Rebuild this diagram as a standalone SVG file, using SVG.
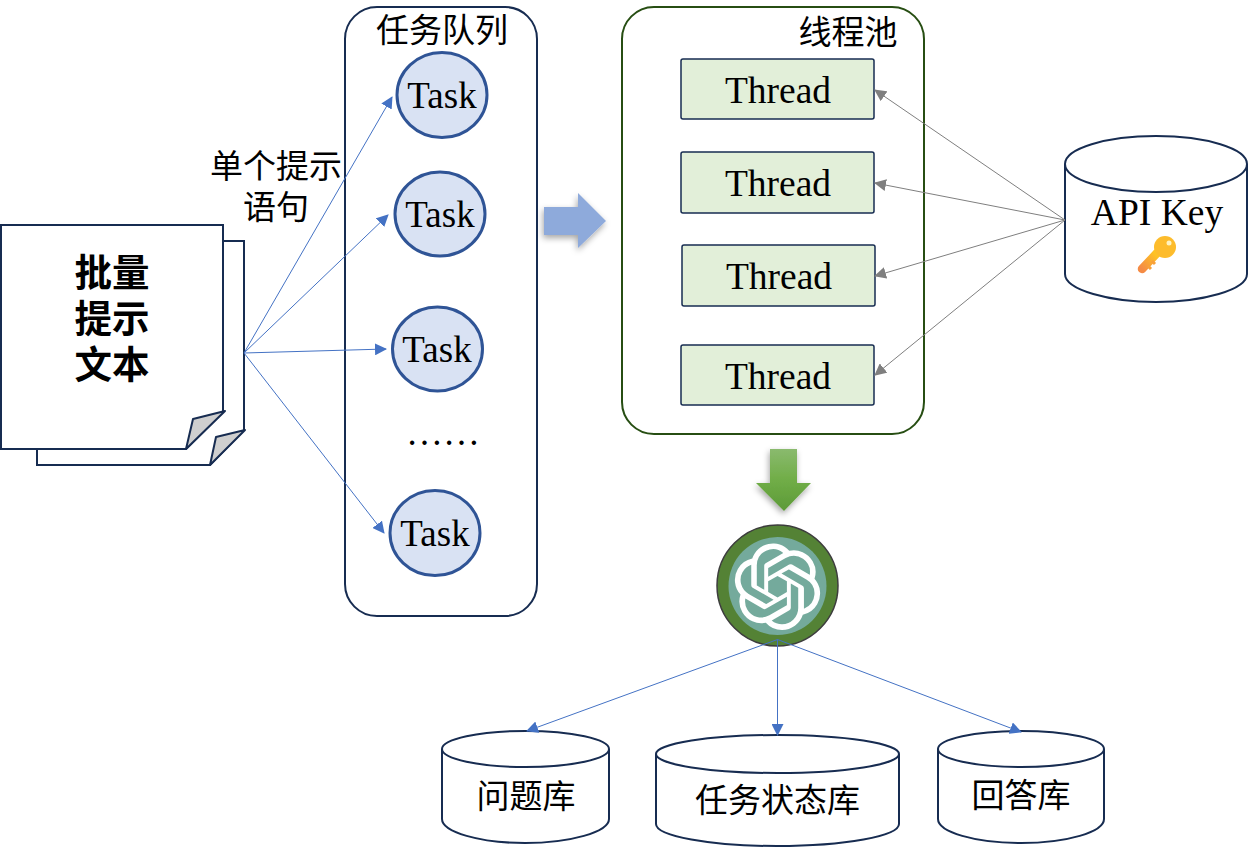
<svg xmlns="http://www.w3.org/2000/svg" width="1255" height="847" viewBox="0 0 1255 847">
<defs>
<marker id="ab" markerWidth="12" markerHeight="12" refX="11" refY="6" orient="auto" markerUnits="userSpaceOnUse"><path d="M0,0L12,6L0,12Z" fill="#4472c4"/></marker>
<marker id="ag" markerWidth="12" markerHeight="12" refX="11" refY="6" orient="auto" markerUnits="userSpaceOnUse"><path d="M0,0L12,6L0,12Z" fill="#7f7f7f"/></marker>
<linearGradient id="gg" x1="0" y1="0" x2="0" y2="1"><stop offset="0" stop-color="#8aba6e"/><stop offset="0.5" stop-color="#70ad47"/><stop offset="1" stop-color="#5d9a38"/></linearGradient>
<linearGradient id="kg" x1="0" y1="1" x2="1" y2="0"><stop offset="0" stop-color="#f58b45"/><stop offset="1" stop-color="#ffc820"/></linearGradient>
<filter id="sh" x="-30%" y="-30%" width="160%" height="160%"><feDropShadow dx="-1" dy="3" stdDeviation="3" flood-color="#000" flood-opacity="0.35"/></filter>
</defs>
<style>
.o{fill:#fff;stroke:#172c51;stroke-width:2}
.b{fill:none;stroke:#172c51;stroke-width:2}
.task{fill:#d9e2f3;stroke:#2f5496;stroke-width:3}
.th{fill:#e2efd9;stroke:#172c51;stroke-width:1.5}
.cb{stroke:#4472c4;stroke-width:1;fill:none;marker-end:url(#ab)}
.cg{stroke:#7f7f7f;stroke-width:1;fill:none;marker-end:url(#ag)}
.fold{fill:#cfcfcf;stroke:#172c51;stroke-width:2;stroke-linejoin:round}
text{fill:#000}
.s{font-family:"Liberation Serif","Noto Serif CJK SC",serif;text-anchor:middle}
.c{font-family:"Noto Sans CJK SC","Liberation Sans",sans-serif;text-anchor:middle}
</style>

<g id="doc">
<path class="o" d="M37,241H244V430L210,465H37Z"/>
<path class="fold" d="M245,430L216,437L210,465Z"/>
<path class="o" d="M1,225H223V412L186,449H1Z"/>
<path class="fold" d="M225,411L193,419L186,449Z"/>
<text class="c" font-size="37.500" font-weight="700"><tspan x="112" y="286">批量</tspan><tspan x="112" y="332">提示</tspan><tspan x="112" y="378">文本</tspan></text>
</g>

<g id="prompt-label">
<text class="c" font-size="33" x="276" y="178">单个提示</text>
<text class="c" font-size="33" x="276" y="219">语句</text>
</g>

<g id="queue">
<rect class="b" x="345" y="7" width="192" height="609" rx="32" ry="32"/>
<text class="c" font-size="33" x="442" y="42">任务队列</text>
<text class="s" font-size="37" x="443" y="445">……</text>
</g>
<g id="task1"><ellipse class="task" cx="442" cy="95" rx="45" ry="42.500"/><text class="s" font-size="37" x="442" y="108">Task</text></g>
<g id="task2"><ellipse class="task" cx="440" cy="214" rx="45" ry="42"/><text class="s" font-size="37" x="440" y="227">Task</text></g>
<g id="task3"><ellipse class="task" cx="437.500" cy="349" rx="45" ry="42"/><text class="s" font-size="37" x="437" y="362">Task</text></g>
<g id="task4"><ellipse class="task" cx="435" cy="533" rx="45" ry="42.500"/><text class="s" font-size="37" x="435" y="546">Task</text></g>

<g id="arrow-right"><path d="M544,207H578V193L606,221L578,248V235H544Z" fill="#8eaadb" filter="url(#sh)"/></g>

<g id="pool">
<rect x="622" y="7" width="302" height="427" rx="32" ry="32" fill="#fff" stroke="#274e13" stroke-width="2"/>
<text class="c" font-size="33" x="848" y="44">线程池</text>
</g>
<g id="thread1"><rect class="th" x="681" y="59" width="193" height="60" rx="2"/><text class="s" font-size="37.500" x="778" y="103">Thread</text></g>
<g id="thread2"><rect class="th" x="681" y="152" width="193" height="61" rx="2"/><text class="s" font-size="37.500" x="778" y="196">Thread</text></g>
<g id="thread3"><rect class="th" x="682" y="245" width="193" height="61" rx="2"/><text class="s" font-size="37.500" x="779" y="289">Thread</text></g>
<g id="thread4"><rect class="th" x="681" y="345" width="193" height="60" rx="2"/><text class="s" font-size="37.500" x="778" y="389">Thread</text></g>

<g id="api-key">
<path class="o" d="M1065,164V274C1065,290 1110,302 1156,302C1202,302 1247,290 1247,274V164"/>
<ellipse class="o" cx="1156" cy="164" rx="91" ry="28"/>
<text class="s" font-size="37.500" x="1157" y="225">API Key</text>
<path d="M1142,269L1157,253" stroke="url(#kg)" stroke-width="8.500" stroke-linecap="round" fill="none"/>
<circle cx="1165" cy="247" r="11" fill="#fdbc2c"/>
<circle cx="1169" cy="243" r="2.500" fill="#fff3c0"/>
<path d="M1148,266l3,3M1152,261l3,3" stroke="#f8a03a" stroke-width="3"/>
</g>

<g id="arrow-down"><path d="M770,449H797V483H811L784,511L756,483H770Z" fill="url(#gg)" filter="url(#sh)"/></g>

<g id="openai">
<circle cx="777.500" cy="585.500" r="60.500" fill="#548235" stroke="#3d3d3d" stroke-width="1.500"/>
<circle cx="777.500" cy="586" r="49" fill="#74aa9c"/>
<path transform="translate(734.300 543.500) scale(3.600)" fill="#fff" d="M22.2819 9.8211a5.9847 5.9847 0 0 0-.5157-4.9108 6.0462 6.0462 0 0 0-6.5098-2.9A6.0651 6.0651 0 0 0 4.9807 4.1818a5.9847 5.9847 0 0 0-3.9977 2.9 6.0462 6.0462 0 0 0 .7427 7.0966 5.98 5.98 0 0 0 .511 4.9107 6.051 6.051 0 0 0 6.5146 2.9001A5.9847 5.9847 0 0 0 13.2599 24a6.0557 6.0557 0 0 0 5.7718-4.2058 5.9894 5.9894 0 0 0 3.9977-2.9001 6.0557 6.0557 0 0 0-.7475-7.0729zm-9.022 12.6081a4.4755 4.4755 0 0 1-2.8764-1.0408l.1419-.0804 4.7783-2.7582a.7948.7948 0 0 0 .3927-.6813v-6.7369l2.02 1.1686a.071.071 0 0 1 .038.052v5.5826a4.504 4.504 0 0 1-4.4945 4.4944zm-9.6607-4.1254a4.4708 4.4708 0 0 1-.5346-3.0137l.142.0852 4.783 2.7582a.7712.7712 0 0 0 .7806 0l5.8428-3.3685v2.3324a.0804.0804 0 0 1-.0332.0615L9.74 19.9502a4.4992 4.4992 0 0 1-6.1408-1.6464zM2.3408 7.8956a4.485 4.485 0 0 1 2.3655-1.9728V11.6a.7664.7664 0 0 0 .3879.6765l5.8144 3.3543-2.0201 1.1685a.0757.0757 0 0 1-.071 0l-4.8303-2.7865A4.504 4.504 0 0 1 2.3408 7.872zm16.5963 3.8558L13.1038 8.364 15.1192 7.2a.0757.0757 0 0 1 .071 0l4.8303 2.7913a4.4944 4.4944 0 0 1-.6765 8.1042v-5.6772a.79.79 0 0 0-.407-.667zm2.0107-3.0231l-.142-.0852-4.7735-2.7818a.7759.7759 0 0 0-.7854 0L9.409 9.2297V6.8974a.0662.0662 0 0 1 .0284-.0615l4.8303-2.7866a4.4992 4.4992 0 0 1 6.6802 4.66zM8.3065 12.863l-2.02-1.1638a.0804.0804 0 0 1-.038-.0567V6.0742a4.4992 4.4992 0 0 1 7.3757-3.4537l-.142.0805L8.704 5.459a.7948.7948 0 0 0-.3927.6813zm1.0976-2.3654l2.602-1.4998 2.6069 1.4998v2.9994l-2.5974 1.4997-2.6067-1.4997Z"/>
</g>

<g id="db-question">
<path class="o" d="M442,749V819C442,832 480,843 525,843C570,843 609,832 609,819V749"/>
<ellipse class="o" cx="525.500" cy="749" rx="83.500" ry="18"/>
<text class="c" font-size="33" x="526" y="808">问题库</text>
</g>
<g id="db-status">
<path class="o" d="M656,754V824C656,836 710,846 777,846C845,846 899,836 899,824V754"/>
<ellipse class="o" cx="777.500" cy="754" rx="121.500" ry="19"/>
<text class="c" font-size="33" x="777.500" y="812">任务状态库</text>
</g>
<g id="db-answer">
<path class="o" d="M938,749V819C938,832 975,843 1021,843C1067,843 1104,832 1104,819V749"/>
<ellipse class="o" cx="1021" cy="749" rx="83" ry="18"/>
<text class="c" font-size="33" x="1021" y="807">回答库</text>
</g>

<g id="connectors">
<path class="cb" d="M244,353L392,97"/>
<path class="cb" d="M244,353L388,215"/>
<path class="cb" d="M244,353L386,349"/>
<path class="cb" d="M244,353L384,533"/>
<path class="cg" d="M1065,220L875,90"/>
<path class="cg" d="M1065,220L875,183"/>
<path class="cg" d="M1065,220L875,276"/>
<path class="cg" d="M1065,220L875,375"/>
<path class="cb" d="M777.500,639.500L527,731"/>
<path class="cb" d="M777.500,639.500V735"/>
<path class="cb" d="M777.500,639.500L1021,732"/>
</g>
</svg>
